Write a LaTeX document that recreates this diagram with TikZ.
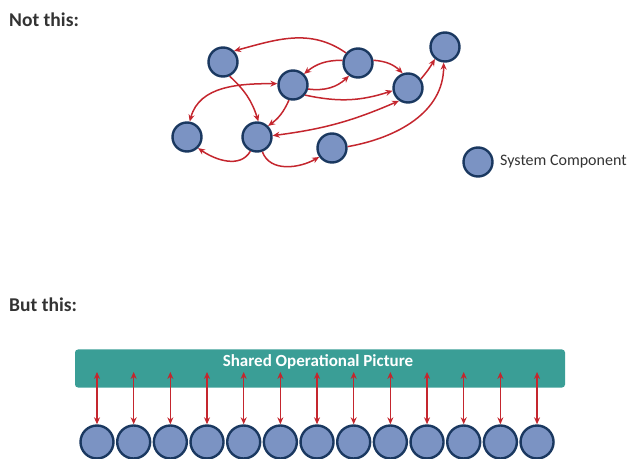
\documentclass[tikz,border=0pt]{standalone}
\usepackage{fontspec}
\setmainfont{Carlito}
\usetikzlibrary{arrows.meta}
\definecolor{compfill}{HTML}{7B93C3}
\definecolor{compline}{HTML}{1A3860}
\definecolor{arrred}{HTML}{C4262E}
\definecolor{banner}{HTML}{3A9E96}
\tikzset{
  comp/.style={circle,fill=compfill,draw=compline,line width=2.4pt,minimum size=#1,inner sep=0pt},
  comp/.default=29pt,
  link/.style={draw=arrred,line width=1.5pt,-{Stealth[length=7pt,width=6pt]}},
  dlink/.style={draw=arrred,line width=1.5pt,{Stealth[length=7pt,width=6pt]}-{Stealth[length=7pt,width=6pt]}},
  heading/.style={font=\bfseries\fontsize{19.5}{21}\selectfont,anchor=west,inner sep=0pt,text=black!80},
}
\begin{document}
\begin{tikzpicture}[x=1pt,y=1pt]
\useasboundingbox (0,0) rectangle (637,458);
% headings
\node[heading] (h1) at (9,438) {Not this:};
\node[heading] (h2) at (9,153) {But this:};
% top components
\node[comp] (A) at (223,396) {};
\node[comp] (B) at (293,373) {};
\node[comp] (C) at (358,395) {};
\node[comp] (D) at (445,411) {};
\node[comp] (E) at (408,370) {};
\node[comp] (F) at (187,321) {};
\node[comp] (G) at (257,321) {};
\node[comp] (H) at (332,310) {};
% legend
\node[comp] (L) at (478,296) {};
\node[anchor=west,font=\fontsize{16}{18}\selectfont,text=black!80,inner sep=0pt] (Lt) at (500,296) {System Component};
% tangled connectors
\draw[link] (C.140) to[out=145,in=15] (A.45);
\draw[link] (C.170) to[bend right=20] (B.45);
\draw[link] (C.10) to[bend left=20] (E.110);
\draw[link] (B.-15) to[bend right=25] (C.-125);
\draw[link] (B.-40) to[bend right=15] (E.190);
\draw[link] (E.35) to[bend right=5] (D.-130);
\draw[link] (A.-65) to[bend left=15] (G.85);
\draw[dlink] (F.80) to[out=75,in=180] (B.175);
\draw[link] (B.-105) to[bend left=15] (G.45);
\draw[dlink] (G.5) to[bend right=8] (E.-125);
\draw[link] (H.5) to[out=10,in=-90] (D.-95);
\draw[link] (G.-115) to[out=-120,in=-35] (F.-45);
\draw[link] (G.-70) to[out=-70,in=-150] (H.-145);
% shared picture
\node[fill=banner,rounded corners=3pt,minimum width=490pt,minimum height=38pt,inner sep=0pt] (P) at (320,89.5) {};
\node[text=white,font=\bfseries\fontsize{17}{19}\selectfont,inner sep=0pt] (Pt) at (318,96) {Shared Operational Picture};
\foreach \i in {0,...,12}{
  \node[comp=33pt] (c\i) at ({97+36.67*\i},16) {};
  \coordinate (t\i) at ({97+36.67*\i},86);
  \draw[dlink] (c\i) -- (t\i);
}
\end{tikzpicture}
\end{document}
